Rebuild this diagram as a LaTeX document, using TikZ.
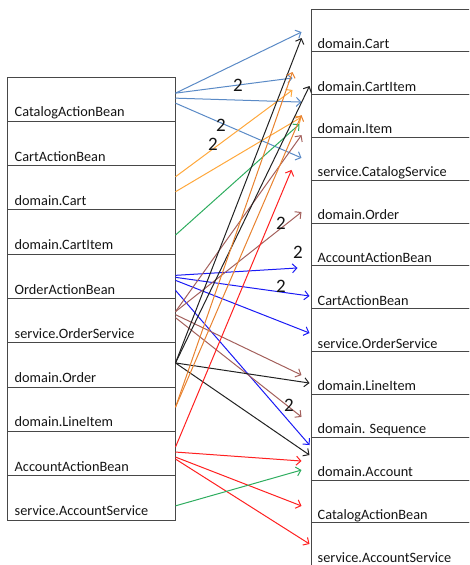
\documentclass[tikz,border=0pt]{standalone}
\usepackage{fontspec}
\setmainfont{Carlito}
\usetikzlibrary{arrows.meta}
\definecolor{boxgray}{HTML}{484848}
\definecolor{txt}{HTML}{141414}
\definecolor{cblue}{HTML}{5A8AC6}
\definecolor{corangeA}{HTML}{FFA83C}
\definecolor{corangeB}{HTML}{E8822F}
\definecolor{cgreen}{HTML}{2EAD5F}
\definecolor{cbrown}{HTML}{A3605C}
\definecolor{cpblue}{HTML}{1A1AF5}
\definecolor{cred}{HTML}{FF2020}
\definecolor{cblack}{HTML}{222222}
\begin{document}
\begin{tikzpicture}[x=1pt,y=-1pt,
  lrow/.style={draw=boxgray,line width=1pt,minimum width=168pt,minimum height=44.3pt,inner sep=0pt},
  rrow/.style={draw=boxgray,line width=1pt,minimum width=200pt,minimum height=42.83pt,inner sep=0pt},
  rowtext/.style={anchor=base west,inner sep=0pt,font=\fontsize{14.3}{16}\selectfont,text=txt},
  lbl/.style={font=\fontsize{19}{21}\selectfont,text=txt,inner sep=0pt},
  conn/.style={line width=1pt,-{Straight Barb[length=4.5pt,width=9pt]}},
  cb/.style={conn,draw=cblue},
  coa/.style={conn,draw=corangeA},
  cob/.style={conn,draw=corangeB},
  cg/.style={conn,draw=cgreen},
  cbr/.style={conn,draw=cbrown},
  cpb/.style={conn,draw=cpblue},
  cr/.style={conn,draw=cred},
  ck/.style={conn,draw=cblack}]
\useasboundingbox (0,0) rectangle (469,565);
\clip (0,0) rectangle (469,565);

% left column
\foreach \i/\t in {1/CatalogActionBean,2/CartActionBean,3/domain.Cart,4/domain.CartItem,5/OrderActionBean,6/service.OrderService,7/domain.Order,8/domain.LineItem,9/AccountActionBean,10/service.AccountService}{
  \node[lrow] (L\i) at (91,{77+44.3*(\i-1)+22.15}) {};
  \node[rowtext] (T\i) at ([shift={(8,-5)}]L\i.south west) {\t};
}
% right column
\foreach \i/\t in {1/domain.Cart,2/domain.CartItem,3/domain.Item,4/service.CatalogService,5/domain.Order,6/AccountActionBean,7/CartActionBean,8/service.OrderService,9/domain.LineItem,10/domain. Sequence,11/domain.Account,12/CatalogActionBean,13/service.AccountService}{
  \node[rrow] (R\i) at (411,{9+42.83*(\i-1)+21.42}) {};
  \node[rowtext] (S\i) at ([shift={(7,-4)}]R\i.south west) {\t};
}

% CatalogActionBean
\draw[cb] ([shift={(0,-6)}]L1.east) -- ([shift={(-9,1.6)}]R1.west);
\draw[cb] ([shift={(0,-6)}]L1.east) -- ([shift={(-18,4.75)}]R2.west);
\draw[cb] ([shift={(0,-1)}]L1.east) -- ([shift={(-9,-14)}]R3.west);
\draw[cb] ([shift={(0,4)}]L1.east) -- ([shift={(-9,-1)}]R4.west);
% domain.Cart
\draw[coa] ([shift={(0,-11)}]L3.east) -- ([shift={(-18,16.75)}]R2.west);
\draw[coa] ([shift={(0,4)}]L3.east) -- ([shift={(-9,1)}]R3.west);
% domain.CartItem
\draw[cg] ([shift={(0,3)}]L4.east) -- ([shift={(-11,8)}]R3.west);
% OrderActionBean
\draw[cpb] ([shift={(0,-1)}]L5.east) -- ([shift={(-13,23.4)}]R6.west);
\draw[cpb] ([shift={(0,1)}]L5.east) -- ([shift={(-1,8.6)}]R7.west);
\draw[cpb] ([shift={(0,4)}]L5.east) -- ([shift={(-1,2.8)}]R8.west);
\draw[cpb] ([shift={(0,14)}]L5.east) -- ([shift={(-1,-13.7)}]R11.west);
% service.OrderService
\draw[cbr] ([shift={(0,-9)}]L6.east) -- ([shift={(-9,10.3)}]R5.west);
\draw[cbr] ([shift={(0,-9)}]L6.east) -- ([shift={(-9,19)}]R3.west);
\draw[cbr] ([shift={(0,-6)}]L6.east) -- ([shift={(-9,2)}]R9.west);
\draw[cbr] ([shift={(0,-3)}]L6.east) -- ([shift={(-9,1)}]R10.west);
% domain.Order
\draw[ck] ([shift={(0,-2)}]L7.east) -- ([shift={(-9,7.6)}]R1.west);
\draw[ck] ([shift={(0,-2)}]L7.east) -- ([shift={(-1,12.75)}]R2.west);
\draw[ck] ([shift={(0,-2)}]L7.east) -- ([shift={(-1,10)}]R9.west);
\draw[ck] ([shift={(0,-2)}]L7.east) -- ([shift={(-1,-3.7)}]R11.west);
% domain.LineItem
\draw[cob] ([shift={(0,-2)}]L8.east) -- ([shift={(-18,-1.25)}]R2.west);
\draw[cob] ([shift={(0,-2)}]L8.east) -- ([shift={(-9,-1)}]R3.west);
% AccountActionBean
\draw[cr] ([shift={(0,-6.5)}]L9.east) -- ([shift={(-19,11)}]R4.west);
\draw[cr] ([shift={(0,-1.5)}]L9.east) -- ([shift={(-9,2.3)}]R11.west);
\draw[cr] ([shift={(0,3.5)}]L9.east) -- ([shift={(-9,4.4)}]R12.west);
\draw[cr] ([shift={(0,5.5)}]L9.east) -- ([shift={(-1,-0.4)}]R13.west);
% service.AccountService
\draw[cg] ([shift={(0,8)}]L10.east) -- ([shift={(-9,11.3)}]R11.west);

% multiplicity labels
\node[lbl] (n1) at (238,85) {2};
\node[lbl] (n2) at (221,125) {2};
\node[lbl] (n3) at (213,144) {2};
\node[lbl] (n4) at (281,223) {2};
\node[lbl] (n5) at (298,252) {2};
\node[lbl] (n6) at (281,286) {2};
\node[lbl] (n7) at (289,405) {2};
\end{tikzpicture}
\end{document}
